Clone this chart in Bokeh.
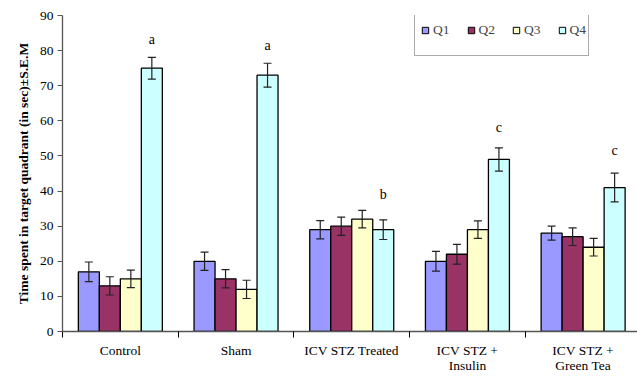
from bokeh.plotting import figure
from bokeh.models import ColumnDataSource, FixedTicker, Whisker, TeeHead, Legend, LegendItem
from bokeh.transform import dodge
from bokeh.core.properties import value
from bokeh.embed import file_html
from bokeh.resources import INLINE

groups = ["Control", "Sham", "ICV STZ Treated", "ICV STZ +\nInsulin", "ICV STZ +\nGreen Tea"]
series = ["Q1", "Q2", "Q3", "Q4"]
colors = ["#9999FF", "#993366", "#FFFFCC", "#CCFFFF"]
q1 = [17, 20, 29, 20, 28]
q2 = [13, 15, 30, 22, 27]
q3 = [15, 12, 32, 29, 24]
q4 = [75, 73, 29, 49, 41]
e1 = [2.8, 2.6, 2.6, 2.8, 2.0]
e2 = [2.6, 2.6, 2.6, 2.8, 2.5]
e3 = [2.5, 2.6, 2.5, 2.5, 2.5]
e4 = [3.1, 3.4, 2.8, 3.3, 4.1]
letters = ["a", "a", "b", "c", "c"]
letter_y = [83.2, 81.5, 38.9, 58.1, 51.5]

centers = [i + 0.5 for i in range(len(groups))]
vals = [q1, q2, q3, q4]
errs = [e1, e2, e3, e4]
bw = 0.1815
offs = [-1.5 * bw, -0.5 * bw, 0.5 * bw, 1.5 * bw]

p = figure(width=637, height=376, x_range=(0, 4.97), y_range=(0, 90),
           output_backend="svg", toolbar_location=None,
           min_border_top=15, min_border_left=62, min_border_right=0, min_border_bottom=44)
p.outline_line_color = None
p.xgrid.visible = False
p.ygrid.visible = False

swatches = []
for j, s in enumerate(series):
    src = ColumnDataSource(dict(x=centers, top=vals[j],
                                upper=[v + e for v, e in zip(vals[j], errs[j])],
                                lower=[v - e for v, e in zip(vals[j], errs[j])]))
    p.vbar(x=dodge("x", offs[j]), top="top", bottom=0, width=bw, source=src,
           fill_color=colors[j], line_color="black", line_width=1.3)
    w = Whisker(base=dodge("x", offs[j]), upper="upper", lower="lower", source=src,
                line_color="#222222", line_width=1.2, level="overlay",
                upper_head=TeeHead(size=8, line_color="#222222", line_width=1.2),
                lower_head=TeeHead(size=8, line_color="#222222", line_width=1.2))
    p.add_layout(w)
    # legend swatch renderer (hidden in the plot, drawn only in the legend)
    sw = p.scatter(x=dodge("x", offs[j]), y="top", source=src, marker="square", size=7,
                   fill_color=colors[j], line_color="black", line_width=1)
    sw.visible = False
    swatches.append(sw)
    if s == "Q4":
        lsrc = ColumnDataSource(dict(x=centers, y=letter_y, t=letters))
        p.text(x=dodge("x", offs[j]), y="y", text="t", source=lsrc, text_align="center",
               text_baseline="middle", text_font=value("Liberation Serif"),
               text_font_size="14px", text_color="black")

p.xaxis.ticker = FixedTicker(ticks=centers, minor_ticks=[0, 1, 2, 3, 4, 5])
p.xaxis.major_label_overrides = {c: g for c, g in zip(centers, groups)}
p.xaxis.major_tick_out = 6
p.xaxis.major_tick_in = 0
p.xaxis.major_tick_line_color = None
p.xaxis.minor_tick_out = 6
p.xaxis.minor_tick_in = 0
p.xaxis.minor_tick_line_color = "black"
p.xaxis.axis_line_color = "#555555"
p.xaxis.axis_line_width = 1.3
p.xaxis.major_label_standoff = 5
p.xaxis.major_label_text_font = "Liberation Serif"
p.xaxis.major_label_text_font_size = "13.5px"
p.xaxis.major_label_text_color = "black"
p.xaxis.major_label_text_line_height = 1.05

p.yaxis.ticker = FixedTicker(ticks=list(range(0, 91, 10)))
p.yaxis.minor_tick_line_color = None
p.yaxis.major_tick_out = 5
p.yaxis.major_tick_in = 0
p.yaxis.axis_line_color = "#555555"
p.yaxis.axis_line_width = 1.3
p.yaxis.major_tick_line_color = "#555555"
p.yaxis.major_label_text_font = "Liberation Serif"
p.yaxis.major_label_text_font_size = "13.5px"
p.yaxis.major_label_text_color = "black"
p.yaxis.major_label_standoff = 4
p.yaxis.axis_label = "Time spent in target quadrant (in sec)\u00b1S.E.M"
p.yaxis.axis_label_text_font = "Liberation Serif"
p.yaxis.axis_label_text_font_style = "bold"
p.yaxis.axis_label_text_font_size = "13.5px"
p.yaxis.axis_label_text_color = "black"
p.yaxis.axis_label_standoff = 6

legend = Legend(items=[LegendItem(label=s, renderers=[r]) for s, r in zip(series, swatches)],
                orientation="horizontal", location=(352, 275),
                glyph_width=16, glyph_height=46, label_standoff=0, spacing=13,
                padding=2, label_height=20, label_width=16, margin=0,
                label_text_font="Liberation Serif", label_text_font_size="13.5px",
                border_line_color="#555555", border_line_width=1.3,
                background_fill_alpha=1)
p.add_layout(legend, "center")

open("out.html", "w").write(file_html(p, INLINE))
